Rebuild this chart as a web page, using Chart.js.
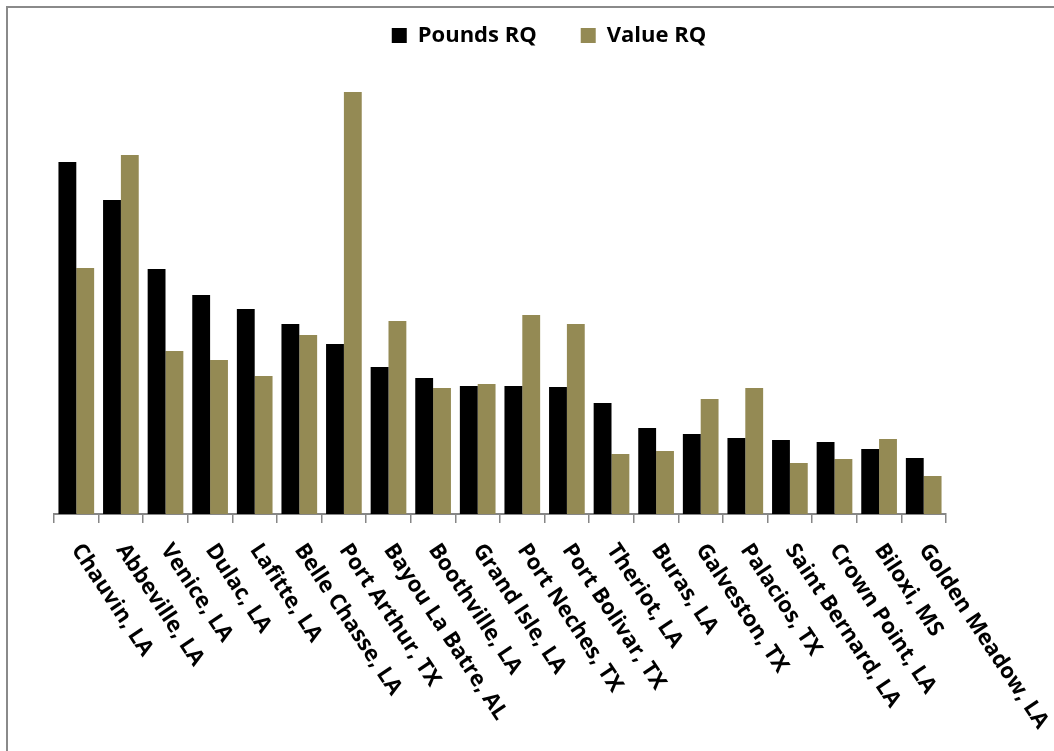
<!DOCTYPE html>
<html>
<head>
<meta charset="utf-8">
<script src="https://cdn.jsdelivr.net/npm/chart.js@4.4.0/dist/chart.umd.min.js"></script>
<style>
  html, body { margin: 0; padding: 0; background: #fff; overflow: hidden; }
  .frame {
    position: absolute;
    left: 6px;
    top: 6px;
    width: 1084px;
    height: 760px;
    border-left: 2px solid #8a8a8a;
    border-top: 2px solid #8a8a8a;
  }
  canvas { display: block; }
</style>
</head>
<body>
<div class="frame">
  <canvas id="chart" width="1084" height="760"></canvas>
</div>
<script>
const ports = [
  'Chauvin, LA', 'Abbeville, LA', 'Venice, LA', 'Dulac, LA', 'Lafitte, LA',
  'Belle Chasse, LA', 'Port Arthur, TX', 'Bayou La Batre, AL', 'Boothville, LA',
  'Grand Isle, LA', 'Port Neches, TX', 'Port Bolivar, TX', 'Theriot, LA',
  'Buras, LA', 'Galveston, TX', 'Palacios, TX', 'Saint Bernard, LA',
  'Crown Point, LA', 'Biloxi, MS', 'Golden Meadow, LA',
];

const poundsRQ = [
  3.52, 3.14, 2.45, 2.19, 2.05, 1.90, 1.70, 1.47, 1.36, 1.28,
  1.28, 1.27, 1.11, 0.86, 0.80, 0.76, 0.74, 0.72, 0.65, 0.56,
];

const valueRQ = [
  2.46, 3.59, 1.63, 1.54, 1.38, 1.79, 4.22, 1.93, 1.26, 1.30,
  1.99, 1.90, 0.60, 0.63, 1.15, 1.26, 0.51, 0.55, 0.75, 0.38,
];

const FONT = "'Open Sans', 'DejaVu Sans', sans-serif";

// Category labels hang below the axis, rotated down to the right.
const slantedLabels = {
  id: 'slantedLabels',
  afterDraw(chart) {
    const { ctx, scales: { x } } = chart;
    const angle = 56.5 * Math.PI / 180;
    ctx.save();
    ctx.font = `bold 22px ${FONT}`;
    ctx.fillStyle = '#000';
    ctx.textAlign = 'left';
    ctx.textBaseline = 'middle';
    x.getLabels().forEach((label, i) => {
      ctx.save();
      ctx.translate(x.getPixelForTick(i), x.top + 32);
      ctx.rotate(angle);
      ctx.fillText(label, 0, 0);
      ctx.restore();
    });
    ctx.restore();
  },
};

new Chart(document.getElementById('chart').getContext('2d'), {
  type: 'bar',
  data: {
    labels: ports,
    datasets: [
      { label: 'Pounds RQ', data: poundsRQ, backgroundColor: '#000000' },
      { label: 'Value RQ', data: valueRQ, backgroundColor: '#948A54' },
    ],
  },
  options: {
    responsive: false,
    devicePixelRatio: 1,
    animation: false,
    categoryPercentage: 0.8,
    barPercentage: 1.0,
    layout: { padding: { left: 46, right: 48, top: -27.5, bottom: 245 } },
    plugins: {
      legend: {
        position: 'top',
        labels: {
          boxWidth: 15,
          boxHeight: 15,
          padding: 44,
          color: '#000',
          font: { family: FONT, size: 22, weight: 'bold' },
        },
      },
      tooltip: { enabled: false },
    },
    scales: {
      x: {
        grid: {
          display: true,
          drawOnChartArea: false,
          drawTicks: true,
          tickLength: 9,
          color: '#868686',
          lineWidth: 1.5,
        },
        border: { display: true, color: '#868686', width: 2 },
        ticks: { display: false },
      },
      y: {
        position: 'right',
        min: 0,
        max: 4.575,
        grid: { display: false },
        border: { display: false },
        ticks: { display: false },
        afterFit: (scale) => { scale.width = 98; },
      },
    },
  },
  plugins: [slantedLabels],
});
</script>
</body>
</html>
